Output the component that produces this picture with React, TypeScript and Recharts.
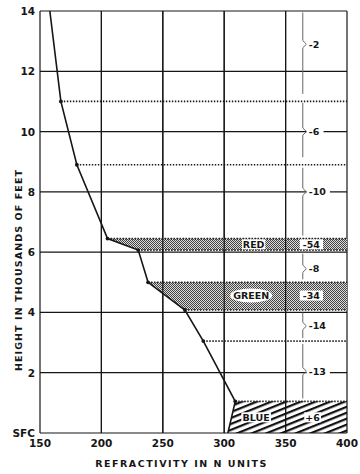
import React from 'react';
import {
  ComposedChart, Line, Scatter, XAxis, YAxis, CartesianGrid, ReferenceArea, ReferenceLine,
} from 'recharts';

// Refractivity profile (N units vs height in thousands of feet)
const profileN = [158, 167, 180, 205, 230, 238, 268, 283, 309, 303];
const profileH = [14, 11, 8.9, 6.45, 6.07, 5.0, 4.08, 3.05, 1.05, 0];

const nTicks = [150, 200, 250, 300, 350, 400];
const hTicks = [0, 2, 4, 6, 8, 10, 12, 14];
const hTickLabels = ['SFC', '2', '4', '6', '8', '10', '12', '14'];

// Layers (bands)
const bandNames = ['RED', 'GREEN', 'BLUE'];
const bandTopH = [6.45, 5.0, 1.05];
const bandBottomH = [6.07, 4.08, 0];
const bandTopN = [205, 238, 309];
const bandBottomN = [230, 268, 303];
const bandGradients = ['-54', '-34', '+6'];
const bandLabelN = [324, 322, 326];
const bandLabelH = [6.26, 4.56, 0.52];
const bandGradN = [371, 371, 372];

// Dotted layer boundaries
const dottedH = [11, 8.9, 6.45, 6.07, 5.0, 4.08, 3.05, 1.05];
const dottedFromN = [167, 180, 205, 230, 238, 268, 283, 309];

// Braces with gradient values between the layers
const braceN = 364;
const braceTopH = [13.95, 10.95, 8.8, 5.95, 4.0, 2.95];
const braceBottomH = [11.25, 9.15, 6.55, 5.1, 3.15, 1.15];
const braceMidH = [12.9, 10.0, 8.0, 5.45, 3.55, 2.05];
const braceLabels = ['-2', '-6', '-10', '-8', '-14', '-13'];

const N_MAX = 400;
const INK = '#161616';
const FONT = 'DejaVu Sans, sans-serif';

const profileData = profileN.map((n, i) => ({ n, h: profileH[i] }));

type Lbl = { n: number; h: number; text: string; kind: string };
const labelData: Lbl[] = [
  ...bandNames.map((t, i) => ({ n: bandLabelN[i], h: bandLabelH[i], text: t, kind: t === 'GREEN' ? 'ellipse' : 'box' })),
  ...bandGradients.map((t, i) => ({ n: bandGradN[i], h: bandLabelH[i], text: t, kind: 'box' })),
  ...braceLabels.map((t, i) => ({ n: braceN + 4, h: braceMidH[i], text: t, kind: 'left' })),
];

const trapShape = (xTop: number, xBot: number, fill: string) => (p: any) => {
  const x1 = Math.min(xTop, xBot);
  const { x, y, width, height } = p;
  const px = (v: number) => x + ((v - x1) / (N_MAX - x1)) * width;
  const pts = `${px(xTop)},${y} ${x + width},${y} ${x + width},${y + height} ${px(xBot)},${y + height}`;
  return <polygon points={pts} fill={fill} stroke="none" />;
};

const LabelShape = (p: any) => {
  const { cx, cy, payload } = p;
  if (cx == null || cy == null) return null;
  const text: string = payload.text;
  const w = text.length * 6.4 + 4;
  const fs = 9.5;
  if (payload.kind === 'left') {
    return (
      <g>
        <rect x={cx - 1} y={cy - 5} width={w} height={10} fill="#fff" />
        <text x={cx + 1} y={cy + 3.5} fontSize={fs} fontWeight="bold" fontFamily={FONT} fill={INK}>{text}</text>
      </g>
    );
  }
  return (
    <g>
      {payload.kind === 'ellipse' ? (
        <ellipse cx={cx} cy={cy} rx={w / 2 + 3} ry={7} fill="#fff" />
      ) : (
        <rect x={cx - w / 2} y={cy - 5} width={w} height={10} fill="#fff" />
      )}
      <text x={cx} y={cy + 3.5} textAnchor="middle" fontSize={fs} fontWeight="bold" fontFamily={FONT} fill={INK}>{text}</text>
    </g>
  );
};

const XTick = (p: any) => (
  <text x={p.x} y={p.y + 14} textAnchor="middle" fontSize={10.5} fontWeight="bold" fontFamily={FONT} fill={INK}>
    {p.payload.value}
  </text>
);

const YTick = (p: any) => {
  const i = hTicks.indexOf(p.payload.value);
  return (
    <text x={p.x - 5} y={p.y + 4} textAnchor="end" fontSize={10.5} fontWeight="bold" fontFamily={FONT} fill={INK}>
      {hTickLabels[i]}
    </text>
  );
};

const Dot = (p: any) => {
  const { cx, cy, index } = p;
  if (index === 0 || index === profileData.length - 1) return <g key={`d${index}`} />;
  return <circle key={`d${index}`} cx={cx} cy={cy} r={1.9} fill={INK} />;
};

export default function App() {
  return (
    <div style={{ position: 'absolute', left: 0, top: 0, background: '#fff' }}>
      <ComposedChart width={360} height={474} margin={{ top: 11, right: 13, bottom: 0, left: 0 }}>
        <defs>
          <pattern id="stip" width="2" height="2" patternUnits="userSpaceOnUse">
            <rect width="2" height="2" fill="#dcdcdc" />
            <rect x="0" y="0" width="1" height="1" fill="#444" />
            <rect x="1" y="1" width="1" height="1" fill="#444" />
          </pattern>
          <pattern id="hatch" width="10" height="5.5" patternUnits="userSpaceOnUse" patternTransform="rotate(-22)">
            <rect x="0" y="0" width="10" height="2.2" fill="#111" />
          </pattern>
        </defs>
        <CartesianGrid stroke={INK} strokeWidth={1.2} horizontalValues={hTicks} verticalValues={nTicks} />
        <XAxis
          type="number" dataKey="n" domain={[150, 400]} ticks={nTicks} allowDataOverflow
          axisLine={false} tickLine={false} tickSize={0} tickMargin={0} height={41} tick={<XTick />}
          label={{
            content: (lp: any) => {
              const vb = lp.viewBox;
              return (
                <text x={vb.x + vb.width / 2 - 12} y={vb.y + 34} textAnchor="middle" fontSize={9.5} fontWeight="bold"
                  fontFamily={FONT} fill={INK} letterSpacing={1.5}>REFRACTIVITY IN N UNITS</text>
              );
            },
          }}
        />
        <YAxis
          type="number" dataKey="h" domain={[0, 14]} ticks={hTicks} allowDataOverflow
          axisLine={false} tickLine={false} tickSize={0} tickMargin={0} width={40} tick={<YTick />}
          label={{
            content: (lp: any) => {
              const vb = lp.viewBox;
              const cx = 18.5;
              const cy = vb.y + vb.height / 2 + 48;
              return (
                <text x={cx} y={cy} transform={`rotate(-90 ${cx} ${cy})`} textAnchor="middle" dominantBaseline="central"
                  fontSize={9.5} fontWeight="bold" fontFamily={FONT} fill={INK} letterSpacing={1.1}>
                  HEIGHT IN THOUSANDS OF FEET
                </text>
              );
            },
          }}
        />
        {bandNames.map((b, i) => (
          <ReferenceArea
            key={b}
            x1={Math.min(bandTopN[i], bandBottomN[i])} x2={N_MAX}
            y1={bandBottomH[i]} y2={bandTopH[i]}
            shape={trapShape(bandTopN[i], bandBottomN[i], b === 'BLUE' ? 'url(#hatch)' : 'url(#stip)')}
          />
        ))}
        {nTicks.slice(1, -1).map((n) => (
          <ReferenceLine key={`v${n}`} x={n} stroke={INK} strokeWidth={1.2} />
        ))}
        {dottedH.map((h, i) => (
          <ReferenceLine
            key={`dot${i}`}
            segment={[{ x: dottedFromN[i], y: h }, { x: N_MAX, y: h }]}
            stroke={INK} strokeWidth={1.7} strokeDasharray="1.4 1.6"
          />
        ))}
        {braceTopH.map((t, i) => (
          <ReferenceLine key={`bt${i}`} segment={[{ x: braceN, y: t }, { x: braceN, y: braceMidH[i] + 0.12 }]} stroke="#666" strokeWidth={1} />
        ))}
        {braceTopH.map((t, i) => (
          <ReferenceLine key={`bk1${i}`} segment={[{ x: braceN, y: braceMidH[i] + 0.12 }, { x: braceN + 3, y: braceMidH[i] }]} stroke="#666" strokeWidth={1} />
        ))}
        {braceTopH.map((t, i) => (
          <ReferenceLine key={`bk2${i}`} segment={[{ x: braceN + 3, y: braceMidH[i] }, { x: braceN, y: braceMidH[i] - 0.12 }]} stroke="#666" strokeWidth={1} />
        ))}
        {braceBottomH.map((b, i) => (
          <ReferenceLine key={`bb${i}`} segment={[{ x: braceN, y: braceMidH[i] - 0.12 }, { x: braceN, y: b }]} stroke="#666" strokeWidth={1} />
        ))}
        <Line
          data={profileData} dataKey="h" type="linear" stroke={INK} strokeWidth={1.6}
          dot={<Dot />} activeDot={false} isAnimationActive={false}
        />
        <Scatter data={labelData} dataKey="h" shape={LabelShape} isAnimationActive={false} />
      </ComposedChart>
    </div>
  );
}
